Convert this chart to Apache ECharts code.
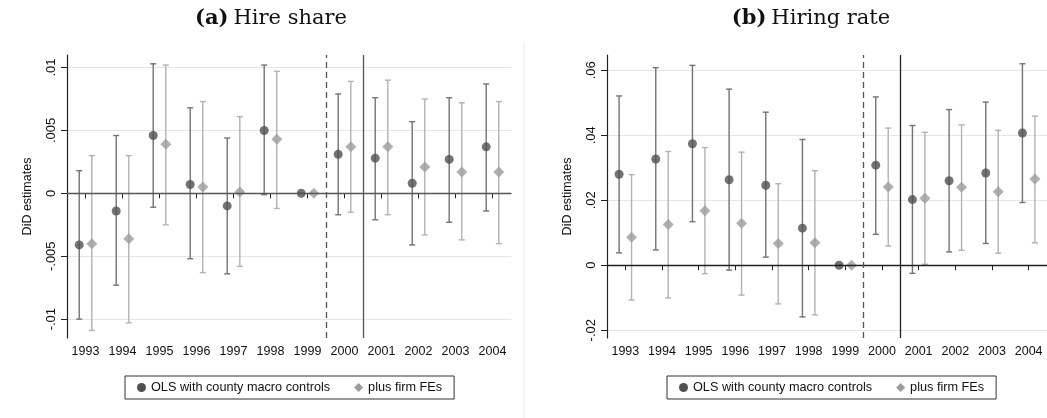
<!DOCTYPE html>
<html>
<head>
<meta charset="utf-8">
<script src="https://cdn.jsdelivr.net/npm/echarts@6/dist/echarts.min.js"></script>
<style>
  html, body { margin: 0; padding: 0; background: #fff; }
  #chart { width: 1047px; height: 418px; }
</style>
</head>
<body>
<div id="chart"></div>
<script>
// Event-study years
const years = [1993, 1994, 1995, 1996, 1997, 1998, 1999, 2000, 2001, 2002, 2003, 2004];

// (a) Hire share — OLS with county macro controls
const shareOls      = [-0.0041, -0.0014, 0.0046, 0.0007, -0.0010, 0.0050, 0, 0.0031, 0.0028, 0.0008, 0.0027, 0.0037];
const shareOlsLow   = [-0.0100, -0.0073, -0.0011, -0.0052, -0.0064, -0.0001, 0, -0.0017, -0.0021, -0.0041, -0.0023, -0.0014];
const shareOlsHigh  = [0.0018, 0.0046, 0.0103, 0.0068, 0.0044, 0.0102, 0, 0.0079, 0.0076, 0.0057, 0.0076, 0.0087];
// (a) Hire share — plus firm FEs
const shareFe       = [-0.0040, -0.0036, 0.0039, 0.0005, 0.0001, 0.0043, 0, 0.0037, 0.0037, 0.0021, 0.0017, 0.0017];
const shareFeLow    = [-0.0109, -0.0103, -0.0025, -0.0063, -0.0058, -0.0012, 0, -0.0015, -0.0017, -0.0033, -0.0037, -0.0040];
const shareFeHigh   = [0.0030, 0.0030, 0.0102, 0.0073, 0.0061, 0.0097, 0, 0.0089, 0.0090, 0.0075, 0.0072, 0.0073];

// (b) Hiring rate — OLS with county macro controls
const rateOls       = [0.0280, 0.0327, 0.0374, 0.0263, 0.0246, 0.0114, 0, 0.0308, 0.0202, 0.0260, 0.0284, 0.0407];
const rateOlsLow    = [0.0038, 0.0047, 0.0134, -0.0015, 0.0025, -0.0159, 0, 0.0095, -0.0025, 0.0041, 0.0067, 0.0193];
const rateOlsHigh   = [0.0521, 0.0608, 0.0615, 0.0542, 0.0471, 0.0387, 0, 0.0518, 0.0430, 0.0479, 0.0502, 0.0620];
// (b) Hiring rate — plus firm FEs
const rateFe        = [0.0086, 0.0125, 0.0168, 0.0129, 0.0067, 0.0069, 0, 0.0241, 0.0206, 0.0240, 0.0226, 0.0265];
const rateFeLow     = [-0.0107, -0.0101, -0.0026, -0.0092, -0.0119, -0.0153, 0, 0.0059, 0.0003, 0.0046, 0.0037, 0.0069];
const rateFeHigh    = [0.0279, 0.0350, 0.0362, 0.0348, 0.0251, 0.0291, 0, 0.0422, 0.0409, 0.0432, 0.0415, 0.0459];

// Axis tick values
const shareTicks = [-0.01, -0.005, 0, 0.005, 0.01];
const rateTicks  = [-0.02, 0, 0.02, 0.04, 0.06];

const OLS_NAME = 'OLS with county macro controls';
const FE_NAME  = 'plus firm FEs';
const SHIFT = 0.17;          // horizontal dodge between the two estimates
const FONT = 'Liberation Sans, Arial, Helvetica, sans-serif';
const SERIF = 'DejaVu Serif, Liberation Serif, serif';

const OLS_COLOR = '#505050', OLS_CI = '#737373';
const FE_COLOR = '#9c9c9c',  FE_CI = '#b2b2b2';

function stataLabel(v) {
  const s = String(+(+v).toFixed(5));
  return s.replace(/^(-?)0\./, '$1.');
}

function ciData(low, high, dx) {
  return years.map((y, i) => [y + dx, low[i], high[i]]);
}
function pointData(vals, dx) {
  return years.map((y, i) => [y + dx, vals[i]]);
}

function renderCI(color) {
  return function (params, api) {
    const x = api.value(0);
    const lo = api.coord([x, api.value(1)]);
    const hi = api.coord([x, api.value(2)]);
    const cap = 3;
    const style = { stroke: color, lineWidth: 1.4, fill: null };
    return {
      type: 'group',
      children: [
        { type: 'line', shape: { x1: lo[0], y1: lo[1], x2: hi[0], y2: hi[1] }, style },
        { type: 'line', shape: { x1: lo[0] - cap, y1: lo[1], x2: lo[0] + cap, y2: lo[1] }, style },
        { type: 'line', shape: { x1: hi[0] - cap, y1: hi[1], x2: hi[0] + cap, y2: hi[1] }, style }
      ]
    };
  };
}

function panelSeries(idx, ols, olsLo, olsHi, fe, feLo, feHi, refColor) {
  return [
    {
      type: 'custom', name: OLS_NAME, xAxisIndex: idx, yAxisIndex: idx, z: 2,
      renderItem: renderCI(OLS_CI), data: ciData(olsLo, olsHi, -SHIFT),
      encode: { x: 0, y: [1, 2] }, silent: true,
      markLine: {
        silent: true, symbol: 'none', label: { show: false }, animation: false,
        data: [
          { yAxis: 0, lineStyle: { color: refColor, width: 1.3, type: 'solid' } },
          { xAxis: 1999.5, lineStyle: { color: '#555', width: 1.3, type: [6, 4] } },
          { xAxis: 2000.5, lineStyle: { color: refColor, width: 1.3, type: 'solid' } }
        ]
      }
    },
    {
      type: 'custom', name: FE_NAME, xAxisIndex: idx, yAxisIndex: idx, z: 2,
      renderItem: renderCI(FE_CI), data: ciData(feLo, feHi, SHIFT),
      encode: { x: 0, y: [1, 2] }, silent: true
    },
    {
      type: 'scatter', name: OLS_NAME, xAxisIndex: idx, yAxisIndex: idx, z: 4,
      symbol: 'circle', symbolSize: 9, itemStyle: { color: OLS_COLOR },
      data: pointData(ols, -SHIFT)
    },
    {
      type: 'scatter', name: FE_NAME, xAxisIndex: idx, yAxisIndex: idx, z: 4,
      symbol: 'diamond', symbolSize: 11, itemStyle: { color: FE_COLOR },
      data: pointData(fe, SHIFT)
    }
  ];
}

function xAxisFor(idx) {
  return {
    type: 'value', gridIndex: idx, min: 1992.5, max: 2004.5,
    axisLine: { lineStyle: { color: '#222', width: 1.2 } },
    axisTick: { show: true, length: 5, customValues: years, lineStyle: { color: '#222' } },
    axisLabel: { customValues: years, color: '#111', fontFamily: FONT, fontSize: 12.5, margin: 7,
                 formatter: v => String(Math.round(v)) },
    splitLine: { show: false }
  };
}

function yAxisFor(idx, min, max, ticks) {
  return {
    type: 'value', gridIndex: idx, min, max,
    name: 'DiD estimates', nameLocation: 'middle', nameGap: 33, nameRotate: 90,
    nameTextStyle: { color: '#111', fontFamily: FONT, fontSize: 12.5 },
    axisLine: { show: true, lineStyle: { color: '#222', width: 1.2 } },
    axisTick: { show: true, length: 6, customValues: ticks, lineStyle: { color: '#222' } },
    axisLabel: { customValues: ticks, rotate: 90, color: '#111', fontFamily: FONT, fontSize: 13,
                 margin: 9, formatter: stataLabel },
    splitLine: { show: true, lineStyle: { color: '#e6e6e6', width: 1.2 } }
  };
}

function legendFor(left) {
  return {
    left, top: 376, orient: 'horizontal',
    borderColor: '#333', borderWidth: 1, borderRadius: 0, padding: [5, 12, 5, 12],
    backgroundColor: '#fff', itemGap: 24, itemWidth: 9, itemHeight: 9,
    textStyle: { color: '#111', fontFamily: FONT, fontSize: 12.7 },
    selectedMode: false,
    data: [
      { name: OLS_NAME, icon: 'circle', itemStyle: { color: OLS_COLOR } },
      { name: FE_NAME, icon: 'diamond', itemStyle: { color: FE_COLOR } }
    ]
  };
}

function titleFor(letter, text, centerX) {
  return {
    text: '{b|(' + letter + ')} {n|' + text + '}',
    left: centerX, top: 3, textAlign: 'center',
    textStyle: {
      fontWeight: 'normal',
      rich: {
        b: { fontFamily: SERIF, fontWeight: 'bold', fontSize: 21, color: '#111' },
        n: { fontFamily: SERIF, fontWeight: 'normal', fontSize: 21, color: '#111' }
      }
    }
  };
}

const chart = echarts.init(document.getElementById('chart'), null, { renderer: 'canvas' });
chart.setOption({
  animation: false,
  backgroundColor: '#fff',
  title: [titleFor('a', 'Hire share', 266), titleFor('b', 'Hiring rate', 806)],
  legend: [legendFor(125), legendFor(667)],
  grid: [
    { left: 67, top: 55, width: 444, height: 283, containLabel: false },
    { left: 607, top: 55, width: 445, height: 283, containLabel: false }
  ],
  xAxis: [xAxisFor(0), xAxisFor(1)],
  yAxis: [yAxisFor(0, -0.0115, 0.011, shareTicks), yAxisFor(1, -0.0224, 0.0647, rateTicks)],
  graphic: [{
    type: 'line', shape: { x1: 524, y1: 42, x2: 524, y2: 418 },
    style: { stroke: '#efefef', lineWidth: 1 }, silent: true
  }],
  series: [
    ...panelSeries(0, shareOls, shareOlsLow, shareOlsHigh, shareFe, shareFeLow, shareFeHigh, '#555'),
    ...panelSeries(1, rateOls, rateOlsLow, rateOlsHigh, rateFe, rateFeLow, rateFeHigh, '#222')
  ]
});
</script>
</body>
</html>
